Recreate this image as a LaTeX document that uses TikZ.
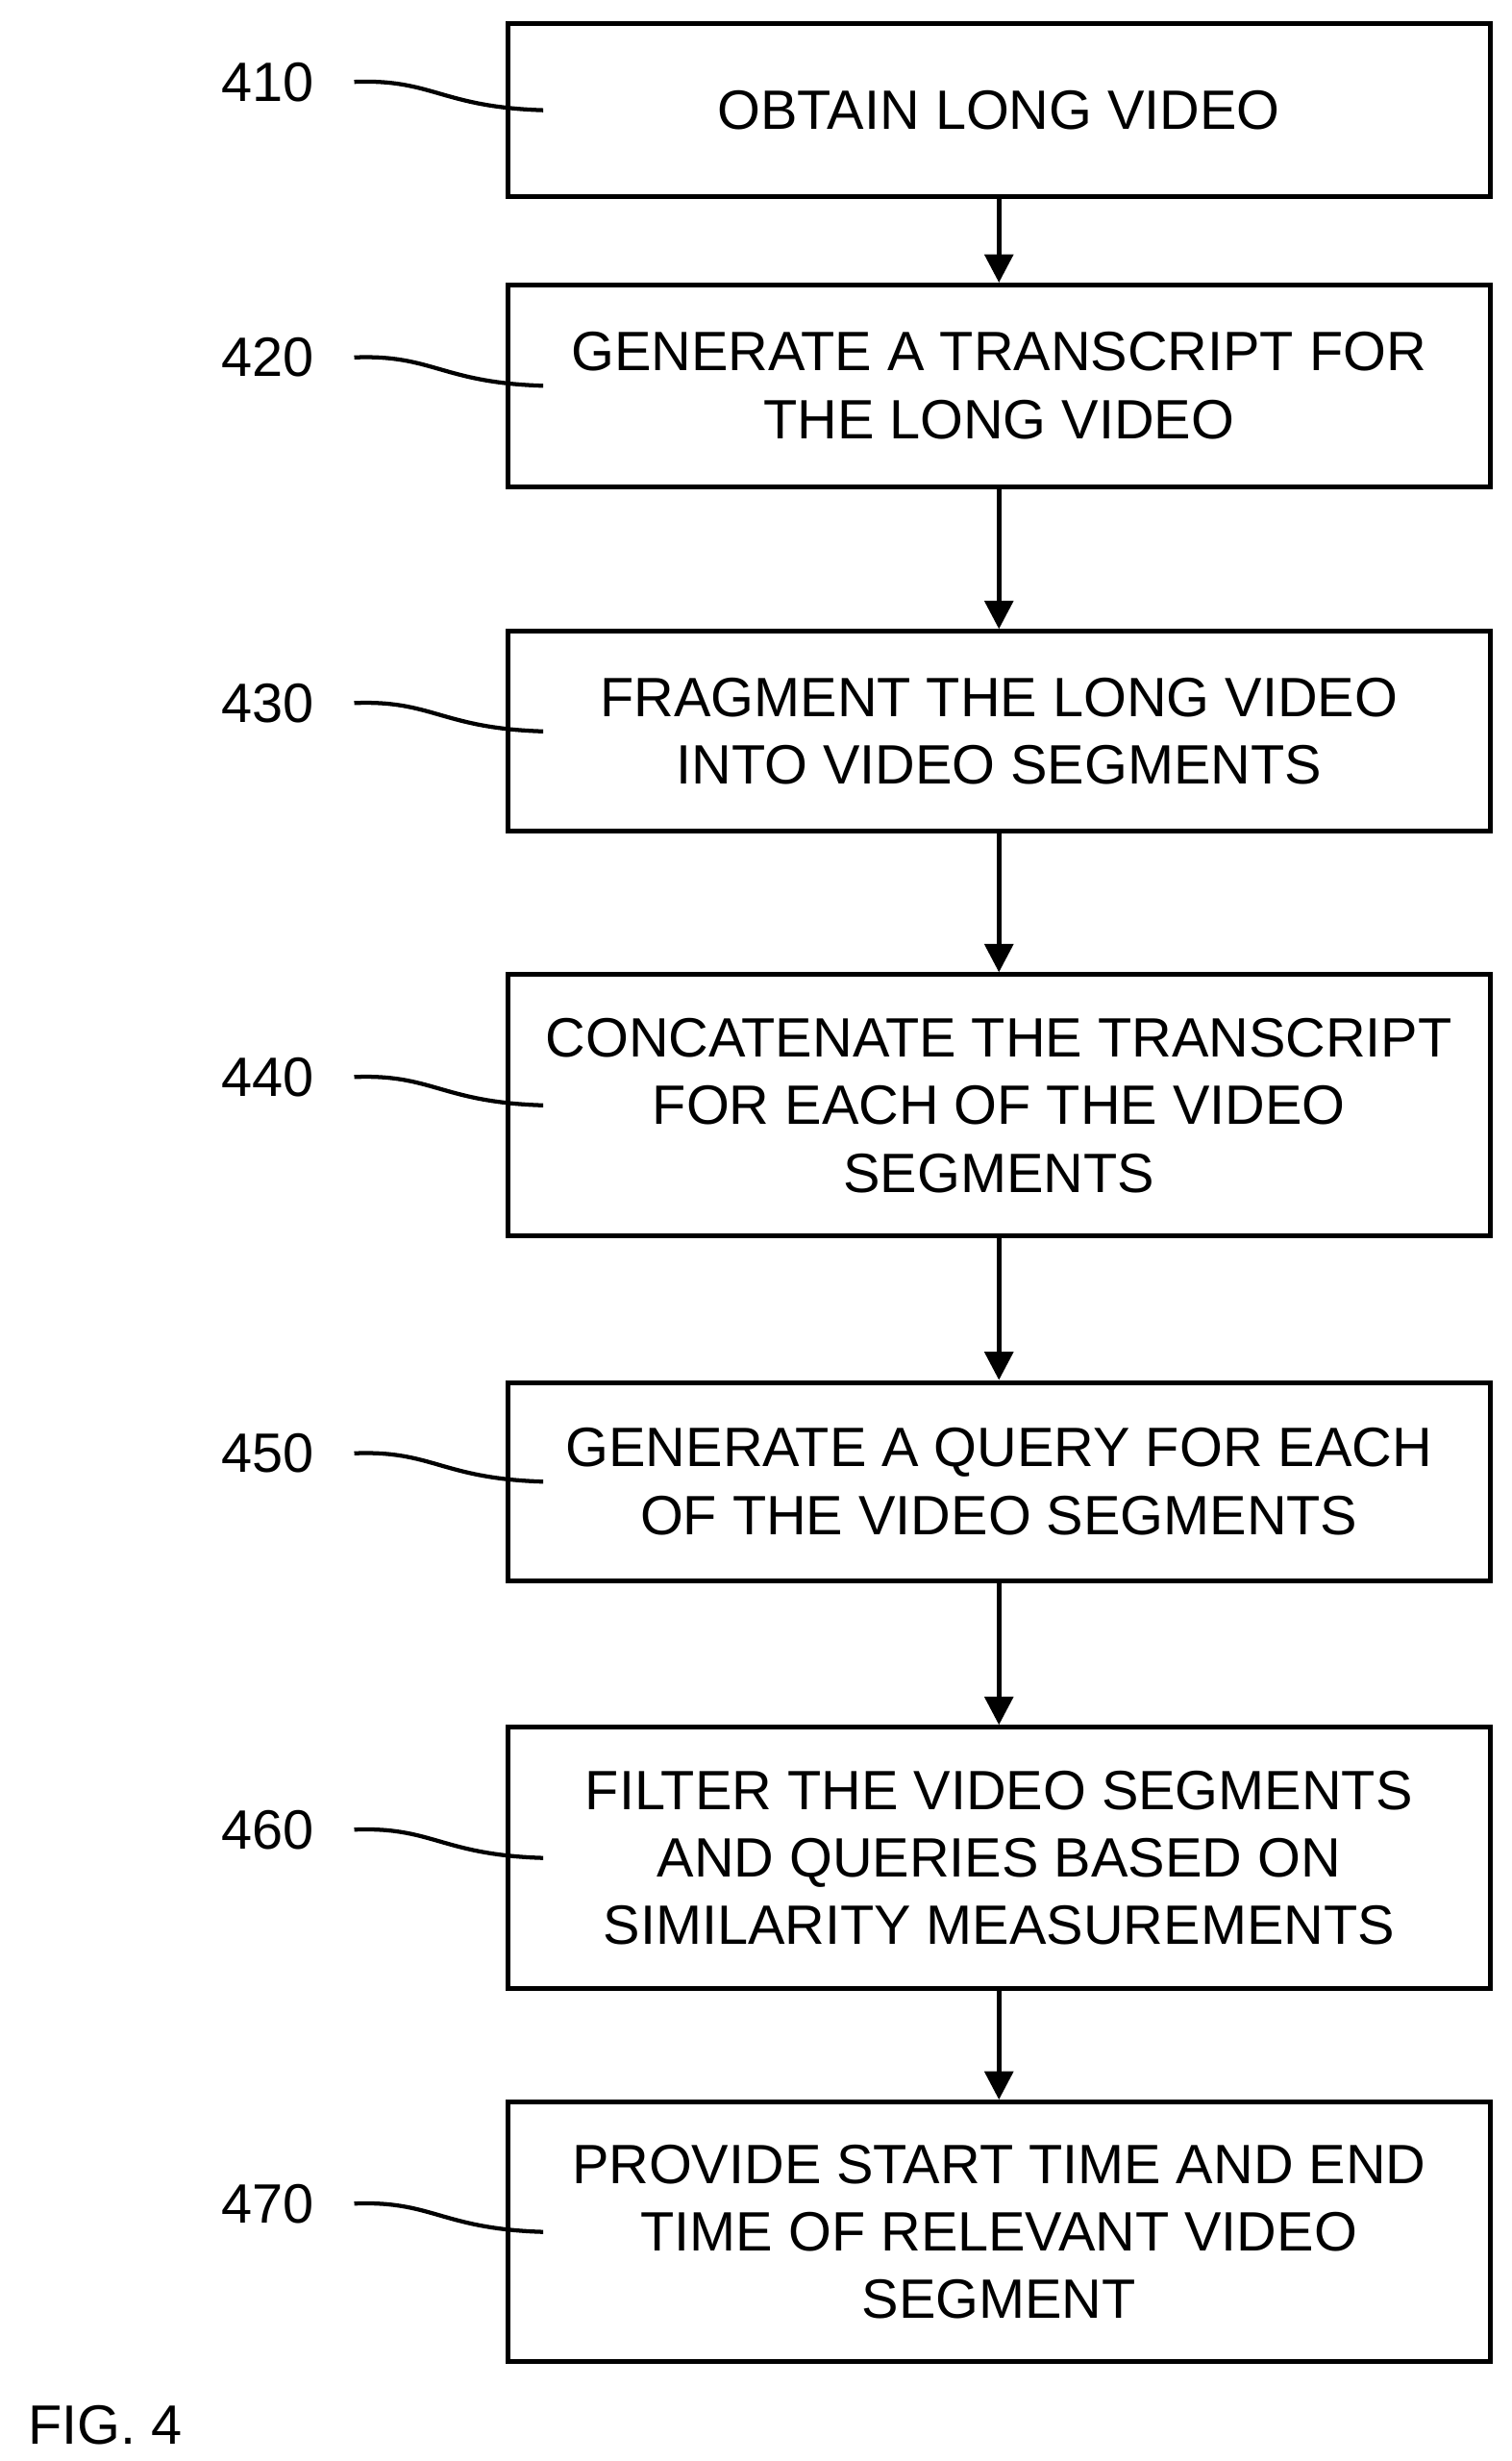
\documentclass[tikz,border=0pt]{standalone}
\usepackage{fontspec}
\setmainfont{Liberation Sans}
\usetikzlibrary{arrows.meta}
\begin{document}
\begin{tikzpicture}[x=0.5pt,y=-0.5pt,
  stepbox/.style={draw,line width=1.5pt,minimum width=312pt,align=center,
    inner sep=0pt,font=\fontsize{17.6}{21.5}\selectfont},
  ref/.style={inner sep=0pt,font=\fontsize{17.6}{21.5}\selectfont},
  leader/.style={line width=1.3pt},
  flow/.style={line width=1.5pt,-{Triangle[length=9pt,width=9pt]}}]
\path[use as bounding box] (0,0) rectangle (960,1563);

\node[stepbox,minimum height=55pt] (s410) at (634.5, 70.0) {OBTAIN LONG VIDEO};
\node[stepbox,minimum height=64pt] (s420) at (634.5,245.0) {GENERATE A TRANSCRIPT FOR\\THE LONG VIDEO};
\node[stepbox,minimum height=63.5pt] (s430) at (634.5,464.5) {FRAGMENT THE LONG VIDEO\\INTO VIDEO SEGMENTS};
\node[stepbox,minimum height=83pt] (s440) at (634.5,702.0) {CONCATENATE THE TRANSCRIPT\\FOR EACH OF THE VIDEO\\SEGMENTS};
\node[stepbox,minimum height=63pt] (s450) at (634.5,941.0) {GENERATE A QUERY FOR EACH\\OF THE VIDEO SEGMENTS};
\node[stepbox,minimum height=83pt] (s460) at (634.5,1180.0) {FILTER THE VIDEO SEGMENTS\\AND QUERIES BASED ON\\SIMILARITY MEASUREMENTS};
\node[stepbox,minimum height=82.5pt] (s470) at (634.5,1417.5) {PROVIDE START TIME AND END\\TIME OF RELEVANT VIDEO\\SEGMENT};

% reference numerals
\foreach \n/\y in {410/70.0,420/245.0,430/464.5,440/702.0,450/941.0,460/1180.0,470/1417.5}{
  \node[ref] (r\n) at (170,\y-18) {\n};
  \coordinate (e\n) at (345,\y);
  \draw[leader] (225,\y-18) .. controls (275,\y-20) and (280,\y-2) .. (e\n);
}

% flow
\foreach \a/\b in {410/420,420/430,430/440,440/450,450/460,460/470}
  \draw[flow] (s\a.south) -- (s\b.north);

\node[ref] (fig) at (67,1540) {FIG. 4};
\end{tikzpicture}
\end{document}
